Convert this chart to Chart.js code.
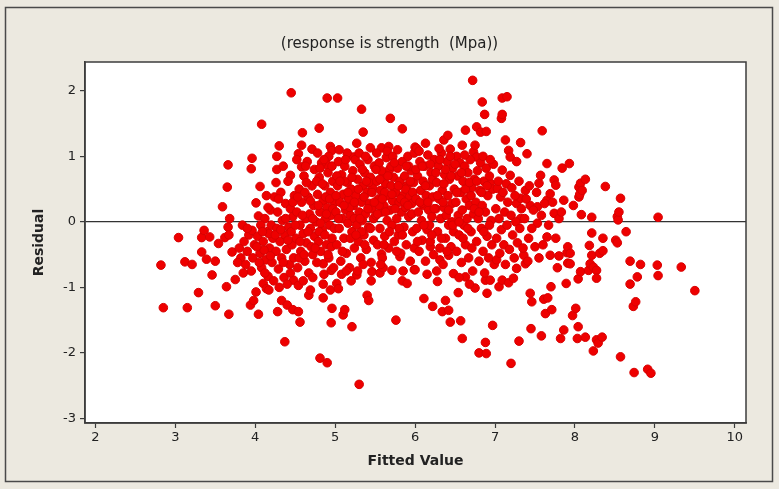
<!DOCTYPE html>
<html>
<head>
<meta charset="utf-8">
<script src="https://cdn.jsdelivr.net/npm/chart.js@4.4.1/dist/chart.umd.min.js"></script>
<style>
  html, body { margin: 0; padding: 0; background: #ece9e0; }
  #wrap { width: 779px; height: 489px; }
</style>
</head>
<body>
<div id="wrap"><canvas id="residChart" width="779" height="489"></canvas></div>
<script>
// residuals vs fitted values, grouped by fitted value range
var fitBelow4 = [
  [2.82,-0.66],[2.85,-1.31],[3.04,-0.24],[3.12,-0.61],[3.15,-1.31],[3.21,-0.65],[3.29,-1.08],[3.33,-0.24],
  [3.33,-0.46],[3.36,-0.13],[3.39,-0.57],[3.43,-0.23],[3.46,-0.81],[3.50,-0.60],[3.50,-1.28],[3.54,-0.33],
  [3.59,0.23],[3.62,-0.24],[3.64,-0.99],[3.65,0.53],[3.66,0.87],[3.66,-0.08],[3.67,-0.20],[3.67,-1.41],
  [3.68,0.05],[3.71,-0.46],[3.75,-0.88],[3.84,-0.05],[3.80,-0.40],[3.82,-0.55],[3.86,-0.30],[3.88,-0.65],
  [3.90,-0.45],[3.92,-0.20],[3.95,0.81],[3.94,-1.27],[3.96,0.97],[3.96,-0.13],[3.98,-1.20],[3.95,-0.75],
  [3.85,-0.78],[3.78,-0.62],[3.90,-0.10],[3.97,-0.55],[3.99,-0.35]
];
var fit4to5 = [
  [4.01,-1.07],[4.01,0.29],[4.04,0.09],[4.04,-1.41],[4.06,0.54],[4.08,1.49],[4.10,-0.94],[4.14,-1.02],
  [4.17,-1.04],[4.26,0.60],[4.27,1.00],[4.27,0.80],[4.28,-1.37],[4.30,1.16],[4.33,-1.20],[4.37,-1.83],
  [4.40,-1.27],[4.44,0.71],[4.45,1.97],[4.47,-1.34],[4.48,-0.89],[4.54,1.04],[4.54,-1.37],[4.54,-0.97],
  [4.56,-1.53],[4.58,1.17],[4.58,0.84],[4.59,1.36],[4.67,-1.12],[4.69,-1.04],[4.71,1.11],[4.80,1.43],
  [4.81,-2.08],[4.85,-1.16],[4.85,-0.64],[4.90,1.89],[4.90,-2.15],[4.90,0.87],[4.94,1.15],[4.94,-1.04],
  [4.95,-0.74],[4.95,-1.54],[4.96,1.09],[4.96,-1.32],
  [4.03,-0.22],[4.06,-0.48],[4.08,-0.70],[4.10,-0.30],[4.12,0.05],[4.13,-0.58],[4.15,-0.15],[4.16,-0.83],
  [4.18,-0.40],[4.19,0.18],[4.21,-0.62],[4.22,-0.25],[4.24,0.38],[4.07,-0.05],[4.14,0.40],[4.20,-0.05],
  [4.23,-0.90],[4.05,-0.62],[4.11,-0.43],[4.17,-0.18],
  [4.26,-0.45],[4.27,-0.10],[4.28,0.15],[4.29,-0.72],[4.31,-0.30],[4.32,0.45],[4.33,-0.55],[4.34,0.02],
  [4.36,-0.85],[4.37,-0.20],[4.38,0.28],[4.39,-0.42],[4.41,0.62],[4.42,-0.08],[4.43,-0.65],[4.44,0.20],
  [4.46,-0.35],[4.47,0.08],[4.48,-0.55],[4.49,0.40],[4.30,-1.00],[4.35,0.85],[4.40,-0.95],[4.45,-0.15],
  [4.51,-0.25],[4.52,0.15],[4.53,-0.70],[4.55,0.50],[4.56,-0.05],[4.57,-0.45],[4.58,0.30],[4.60,-0.18],
  [4.61,0.70],[4.62,-0.60],[4.63,0.05],[4.64,-0.32],[4.66,0.38],[4.67,-0.78],[4.68,0.12],[4.69,-0.10],
  [4.71,0.55],[4.72,-0.50],[4.73,0.25],[4.74,-0.22],[4.52,0.95],[4.60,-0.90],[4.65,0.92],[4.70,-0.38],
  [4.55,-0.55],[4.62,0.45],[4.74,0.80],
  [4.76,0.00],[4.77,-0.62],[4.78,0.42],[4.79,-0.30],[4.80,0.68],[4.81,0.15],[4.82,-0.45],[4.83,0.90],
  [4.84,-0.12],[4.85,0.32],[4.86,-0.80],[4.87,0.55],[4.88,0.05],[4.89,-0.35],[4.90,0.22],[4.91,0.75],
  [4.92,-0.55],[4.93,-0.05],[4.94,0.45],[4.95,0.10],[4.96,-0.25],[4.97,0.62],[4.98,-0.70],[4.99,0.30],
  [4.78,1.05],[4.85,-0.95],[4.92,1.00],[4.80,-0.15],[4.88,0.38],[4.96,0.85],
  [4.02,-0.38],[4.09,-0.15],[4.12,-0.78],[4.16,0.22],[4.19,-0.52],[4.25,-0.20],[4.29,0.35],[4.32,-0.12],
  [4.35,-0.62],[4.38,0.05],[4.41,-0.28],[4.44,-0.78],[4.47,0.30],[4.50,-0.05],[4.53,0.38],[4.56,-0.30],
  [4.59,0.10],[4.61,-0.50],[4.64,0.60],[4.66,-0.15],[4.69,0.32],[4.72,0.05],[4.75,-0.40],[4.77,0.62],
  [4.79,0.25],[4.82,-0.02],[4.84,0.58],[4.87,-0.20],[4.89,0.12],[4.91,-0.50],[4.93,0.35],[4.95,-0.38],
  [4.97,0.20],[4.99,-0.10],[4.81,0.82],[4.86,0.95],[4.63,0.85],[4.72,-0.85]
];
var fit5to6 = [
  [5.02,-0.94],[5.03,1.89],[5.04,-1.02],[5.10,-1.42],[5.12,-1.34],[5.21,-1.60],[5.23,0.99],[5.27,1.20],
  [5.27,-0.81],[5.30,-2.48],[5.33,1.72],[5.35,1.37],[5.40,-1.12],[5.42,-1.20],[5.44,1.13],[5.46,-0.76],
  [5.56,-0.78],[5.58,1.13],[5.58,-0.49],[5.67,1.15],[5.69,1.58],[5.71,-0.74],[5.76,-1.50],[5.81,-0.53],
  [5.84,1.42],[5.84,-0.90],[5.90,-0.94],[5.99,-0.73],
  [5.01,0.15],[5.02,-0.35],[5.03,0.55],[5.04,0.92],[5.05,-0.10],[5.06,0.30],[5.07,-0.60],[5.08,0.72],
  [5.09,0.05],[5.10,0.42],[5.11,-0.25],[5.12,0.85],[5.13,0.18],[5.14,-0.48],[5.15,0.60],[5.16,-0.02],
  [5.17,0.35],[5.18,-0.70],[5.19,0.10],[5.20,0.50],[5.21,-0.15],[5.22,0.78],[5.23,0.25],[5.24,-0.40],
  [5.05,1.10],[5.15,1.05],[5.25,0.95],[5.08,-0.80],[5.20,-0.90],[5.12,0.62],[5.18,0.22],[5.02,0.70],
  [5.24,0.05],
  [5.26,0.40],[5.27,-0.05],[5.28,0.65],[5.29,-0.30],[5.30,0.15],[5.31,0.88],[5.32,-0.55],[5.33,0.30],
  [5.34,0.02],[5.35,0.55],[5.36,-0.20],[5.37,0.75],[5.38,0.12],[5.39,-0.42],[5.40,0.45],[5.41,0.95],
  [5.42,-0.08],[5.43,0.28],[5.44,0.68],[5.45,-0.62],[5.46,0.20],[5.47,0.52],[5.48,-0.28],[5.49,0.85],
  [5.30,1.05],[5.38,1.00],[5.45,-0.90],[5.28,-0.75],[5.36,0.38],[5.42,0.60],[5.48,0.05],[5.33,-0.15],
  [5.51,0.10],[5.52,0.62],[5.53,-0.35],[5.54,0.35],[5.55,0.90],[5.56,-0.10],[5.57,0.48],[5.58,0.15],
  [5.59,-0.55],[5.60,0.72],[5.61,0.25],[5.62,-0.22],[5.63,0.58],[5.64,0.98],[5.65,0.02],[5.66,0.40],
  [5.67,-0.40],[5.68,0.80],[5.69,0.18],[5.70,0.55],[5.71,-0.05],[5.72,0.32],[5.73,0.68],[5.74,-0.30],
  [5.52,1.05],[5.60,-0.70],[5.65,1.08],[5.72,1.00],[5.55,0.25],[5.62,0.45],[5.70,0.85],[5.58,0.78],
  [5.76,0.45],[5.77,0.05],[5.78,0.82],[5.79,-0.20],[5.80,0.30],[5.81,0.62],[5.82,-0.48],[5.83,0.15],
  [5.84,0.92],[5.85,0.40],[5.86,-0.08],[5.87,0.70],[5.88,0.22],[5.89,-0.35],[5.90,0.55],[5.91,1.00],
  [5.92,0.08],[5.93,0.38],[5.94,-0.60],[5.95,0.78],[5.96,0.28],[5.97,-0.15],[5.98,0.60],[5.99,1.05],
  [5.78,1.10],[5.85,-0.75],[5.92,0.85],[5.80,-0.10],[5.88,0.50],[5.96,0.12],
  [5.01,0.40],[5.04,0.05],[5.06,0.62],[5.09,-0.45],[5.11,0.25],[5.13,0.95],[5.16,0.45],[5.19,-0.25],
  [5.21,0.68],[5.24,0.30],[5.26,-0.20],[5.29,0.50],[5.31,0.05],[5.34,0.80],[5.37,-0.35],[5.39,0.62],
  [5.41,0.20],[5.44,-0.10],[5.46,0.45],[5.49,0.30],[5.51,0.80],[5.53,0.12],[5.56,0.65],[5.59,0.35],
  [5.61,-0.35],[5.63,0.15],[5.66,0.70],[5.68,-0.15],[5.71,0.42],[5.74,0.90],[5.75,0.20],[5.79,0.55],
  [5.82,0.35],[5.84,-0.20],[5.87,0.30],[5.89,0.85],[5.91,0.25],[5.94,0.62],[5.97,0.45],[5.99,-0.40],
  [5.14,-0.75],[5.35,-0.65],[5.57,-0.65],[5.77,-0.45]
];
var fit6to7 = [
  [6.00,1.14],[6.02,1.12],[6.11,-1.17],[6.13,1.20],[6.22,-1.29],[6.34,-1.37],[6.36,1.25],[6.38,-1.20],
  [6.41,1.32],[6.42,-1.35],[6.44,-1.53],[6.44,1.11],[6.52,1.00],[6.54,-1.08],[6.57,-1.51],[6.59,-1.78],
  [6.59,1.17],[6.63,1.40],[6.72,2.16],[6.73,1.07],[6.75,1.17],[6.75,-1.01],[6.77,1.45],[6.77,0.99],
  [6.80,-2.00],[6.82,1.37],[6.84,1.83],[6.87,1.64],[6.88,-1.84],[6.89,1.38],[6.89,-2.01],[6.90,-1.09],
  [6.94,0.59],[6.97,-1.58],[6.00,-0.73],[6.28,-0.91],[6.31,-0.58],[6.42,-0.51],[6.48,-0.79],[6.63,-0.84],
  [6.19,-0.38],[6.88,-0.89],[6.94,-0.89],
  [6.01,0.35],[6.02,-0.10],[6.03,0.70],[6.04,0.15],[6.05,-0.45],[6.06,0.92],[6.07,0.48],[6.08,0.02],
  [6.09,-0.28],[6.10,0.62],[6.11,0.25],[6.12,0.85],[6.13,-0.60],[6.14,0.40],[6.15,-0.12],[6.16,1.02],
  [6.17,0.18],[6.18,0.55],[6.19,-0.30],[6.20,0.75],[6.21,0.08],[6.22,0.38],[6.23,-0.50],[6.24,0.95],
  [6.05,1.08],[6.15,-0.80],[6.22,0.65],[6.08,0.28],[6.18,-0.05],
  [6.26,0.20],[6.27,0.60],[6.28,-0.15],[6.29,0.85],[6.30,0.35],[6.31,-0.40],[6.32,0.05],[6.33,1.05],
  [6.34,0.48],[6.35,-0.65],[6.36,0.22],[6.37,0.72],[6.38,-0.25],[6.39,0.10],[6.40,0.92],[6.41,0.40],
  [6.42,-0.05],[6.43,0.65],[6.45,-0.38],[6.46,0.28],[6.47,0.82],[6.48,-0.15],[6.49,0.50],[6.30,1.12],
  [6.44,1.00],[6.27,-0.75],[6.36,0.58],[6.46,0.00],
  [6.51,0.30],[6.52,-0.45],[6.53,0.70],[6.54,0.10],[6.55,-0.20],[6.56,0.90],[6.57,0.45],[6.58,-0.62],
  [6.59,0.18],[6.60,0.62],[6.61,-0.05],[6.62,0.85],[6.63,-0.35],[6.64,0.35],[6.65,0.05],[6.66,0.75],
  [6.67,-0.55],[6.68,0.25],[6.69,0.95],[6.70,-0.15],[6.71,0.52],[6.72,-0.75],[6.73,0.12],[6.74,0.65],
  [6.55,-0.85],[6.62,1.02],[6.68,-0.95],[6.70,0.40],
  [6.76,0.30],[6.77,-0.30],[6.78,0.78],[6.79,0.05],[6.80,-0.60],[6.81,0.48],[6.82,0.90],[6.83,-0.10],
  [6.84,0.25],[6.85,-0.45],[6.86,0.62],[6.87,-0.78],[6.88,0.15],[6.89,0.82],[6.90,-0.22],[6.91,0.40],
  [6.92,-0.55],[6.93,0.70],[6.95,0.02],[6.96,-0.35],[6.97,0.50],[6.98,0.88],[6.99,-0.65],[6.85,1.00],
  [6.94,0.95],
  [6.01,0.80],[6.03,-0.30],[6.06,0.30],[6.09,0.85],[6.11,-0.05],[6.13,0.55],[6.16,0.30],[6.19,0.88],
  [6.21,-0.20],[6.24,0.20],[6.26,0.75],[6.28,0.40],[6.31,0.95],[6.33,-0.25],[6.35,0.30],[6.38,0.80],
  [6.40,-0.45],[6.42,0.18],[6.45,0.70],[6.47,-0.05],[6.50,0.88],[6.52,0.45],[6.55,0.00],[6.58,0.75],
  [6.60,-0.25],[6.63,0.50],[6.66,-0.10],[6.68,0.60],[6.71,-0.40],[6.74,0.20],[6.77,0.62],[6.80,0.15],
  [6.83,0.45],[6.86,-0.15],[6.90,0.55],[6.93,-0.05]
];
var fit7to8 = [
  [7.02,-0.58],[7.03,0.51],[7.05,-0.99],[7.08,1.58],[7.09,1.89],[7.09,1.64],[7.09,0.79],[7.09,-0.89],
  [7.13,1.25],[7.15,1.91],[7.17,1.09],[7.17,-0.93],[7.19,0.99],[7.19,0.71],[7.20,-2.16],[7.23,-0.86],
  [7.27,0.92],[7.27,0.28],[7.27,-0.71],[7.30,-1.82],[7.32,1.21],[7.32,0.36],[7.32,0.05],[7.36,-0.51],
  [7.38,-0.64],[7.38,0.48],[7.40,1.04],[7.42,-0.25],[7.44,0.25],[7.44,-1.09],[7.45,-1.63],[7.46,-1.22],
  [7.53,0.23],[7.53,-0.02],[7.55,0.59],[7.57,0.71],[7.58,-1.74],[7.59,1.39],[7.61,-1.18],[7.63,-1.40],
  [7.65,0.89],[7.65,0.33],[7.65,-0.23],[7.66,-1.16],[7.69,0.43],[7.69,-0.51],[7.70,-0.99],[7.71,-1.34],
  [7.74,0.64],[7.74,0.13],[7.76,0.56],[7.76,-0.25],[7.80,0.05],[7.80,-0.52],[7.82,-1.78],[7.84,0.82],
  [7.86,0.33],[7.86,-1.65],[7.89,-0.94],[7.90,-0.47],[7.91,-0.38],[7.91,-0.63],[7.93,0.89],[7.94,-0.48],
  [7.94,-0.64],[7.97,-1.43],[7.98,0.25],
  [7.01,0.20],[7.02,-0.25],[7.04,0.62],[7.05,0.05],[7.06,-0.48],[7.07,0.38],[7.08,-0.12],[7.10,0.45],
  [7.11,-0.35],[7.12,0.15],[7.13,-0.65],[7.14,0.58],[7.15,-0.05],[7.16,0.30],[7.18,-0.42],[7.20,0.10],
  [7.21,0.52],[7.22,-0.20],[7.24,-0.55],[7.25,0.40],[7.26,0.00],[7.28,-0.32],[7.30,0.62],[7.31,-0.10],
  [7.33,0.20],[7.35,-0.40],[7.37,0.05],[7.39,0.35],[7.41,-0.60],[7.43,0.55],[7.46,-0.10],[7.48,0.18],
  [7.50,-0.38],[7.52,0.45],[7.55,-0.55],[7.58,0.10],[7.60,-0.35],[7.62,0.28],[7.67,-0.05],[7.72,0.30],
  [7.78,-0.70],[7.83,0.15]
];
var fitAbove8 = [
  [8.01,-1.32],[8.03,-1.78],[8.04,-1.60],[8.04,-0.87],[8.05,0.53],[8.05,0.38],[8.06,0.42],[8.07,0.59],
  [8.07,-0.76],[8.08,0.11],[8.09,0.48],[8.13,0.65],[8.13,-1.76],[8.17,-0.74],[8.18,-0.36],[8.19,-0.64],
  [8.21,0.07],[8.21,-0.17],[8.21,-0.51],[8.23,-0.69],[8.23,-1.97],[8.27,-0.74],[8.27,-0.86],[8.27,-1.80],
  [8.29,-1.85],[8.31,-0.48],[8.34,-1.76],[8.35,-0.25],[8.35,-0.44],[8.38,0.54],[8.51,-0.28],[8.53,0.08],
  [8.53,-0.32],[8.54,0.03],[8.55,0.15],[8.57,0.36],[8.57,-2.06],[8.64,-0.15],[8.69,-0.60],[8.69,-0.95],
  [8.73,-1.29],[8.74,-2.30],[8.76,-1.22],[8.78,-0.84],[8.82,-0.65],[8.91,-2.25],[8.95,-2.31],[9.03,-0.66],
  [9.04,0.07],[9.04,-0.82],[9.33,-0.69],[9.50,-1.05]
];

var xTicks = [2, 3, 4, 5, 6, 7, 8, 9, 10];
var yTicks = [-3, -2, -1, 0, 1, 2];

var points = [].concat(fitBelow4, fit4to5, fit5to6, fit6to7, fit7to8, fitAbove8)
  .map(function (p) { return { x: p[0], y: p[1] }; });

var frameColor = '#3c3c3c';
var fontFamily = "'DejaVu Sans', sans-serif";

// beige panel, outer frame, white plot box
var panelPlugin = {
  id: 'panel',
  beforeDraw: function (chart) {
    var c = chart.ctx, a = chart.chartArea;
    c.save();
    c.fillStyle = '#ece9e0';
    c.fillRect(0, 0, chart.width, chart.height);
    c.strokeStyle = '#4a4a4a';
    c.lineWidth = 1.5;
    c.strokeRect(5.5, 7.5, 767, 474);
    c.fillStyle = '#ffffff';
    c.fillRect(a.left, a.top, a.right - a.left, a.bottom - a.top);
    c.restore();
  },
  afterDraw: function (chart) {
    var c = chart.ctx, a = chart.chartArea;
    c.save();
    c.strokeStyle = frameColor;
    c.lineWidth = 1.5;
    c.strokeRect(a.left, a.top, a.right - a.left, a.bottom - a.top);
    c.restore();
  }
};

var ctx = document.getElementById('residChart').getContext('2d');
var residChart = new Chart(ctx, {
  type: 'scatter',
  data: {
    datasets: [{
      label: 'Residual',
      data: points,
      pointRadius: 4.3,
      pointBackgroundColor: '#ee0000',
      pointBorderColor: '#d80000',
      pointBorderWidth: 1
    }]
  },
  options: {
    responsive: false,
    animation: false,
    layout: { padding: 0 },
    plugins: {
      legend: { display: false },
      tooltip: { enabled: false },
      title: {
        display: true,
        text: '(response is strength  (Mpa))',
        color: '#222',
        font: { family: fontFamily, size: 15, weight: 'normal' },
        padding: { top: 35, bottom: 9 }
      }
    },
    scales: {
      x: {
        type: 'linear',
        min: 1.87,
        max: 10.14,
        afterFit: function (s) { s.height = 66; },
        afterBuildTicks: function (s) { s.ticks = xTicks.map(function (v) { return { value: v }; }); },
        border: { display: true, color: frameColor, width: 1.5 },
        grid: { drawOnChartArea: false, drawTicks: true, tickLength: 5, tickColor: frameColor, tickWidth: 1.2 },
        ticks: { color: '#222', font: { family: fontFamily, size: 13 }, padding: 2, maxRotation: 0 },
        title: {
          display: true,
          text: 'Fitted Value',
          color: '#222',
          font: { family: fontFamily, size: 14, weight: 'bold' },
          padding: { top: 0, bottom: 19 }
        }
      },
      y: {
        type: 'linear',
        min: -3.07,
        max: 2.44,
        afterFit: function (s) { s.width = 85; },
        afterBuildTicks: function (s) { s.ticks = yTicks.map(function (v) { return { value: v }; }); },
        border: { display: true, color: frameColor, width: 1.5 },
        grid: {
          drawOnChartArea: true,
          drawTicks: true,
          tickLength: 5,
          tickColor: frameColor,
          tickWidth: 1.2,
          lineWidth: 1.2,
          color: function (c) { return c.tick && c.tick.value === 0 ? '#333' : 'rgba(0,0,0,0)'; }
        },
        ticks: { color: '#222', font: { family: fontFamily, size: 13 }, padding: 4 },
        title: {
          display: true,
          text: 'Residual',
          color: '#222',
          font: { family: fontFamily, size: 14, weight: 'bold' },
          padding: { top: 31, bottom: 0 }
        }
      },
      // empty strip on the right keeps the plot box narrower than the panel
      yRight: {
        type: 'linear',
        position: 'right',
        display: true,
        afterFit: function (s) { s.width = 33; },
        border: { display: false },
        grid: { display: false },
        ticks: { display: false }
      }
    }
  },
  plugins: [panelPlugin]
});
</script>
</body>
</html>
